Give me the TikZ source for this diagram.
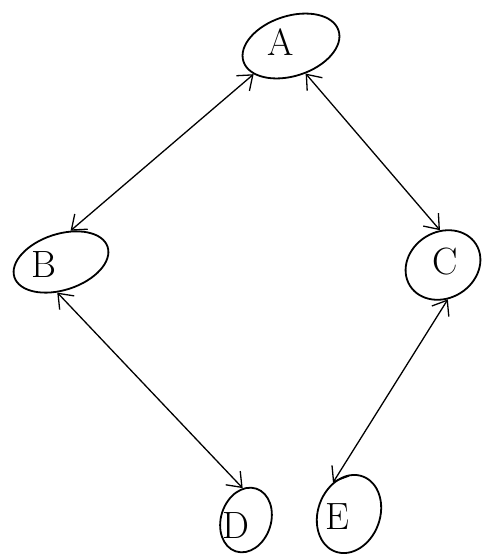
\documentclass[tikz,border=0pt]{standalone}
\usetikzlibrary{shapes.geometric,arrows.meta}
\begin{document}
\begin{tikzpicture}[x=1pt,y=-1pt,
  state/.style={draw, ellipse, line width=1.8pt, inner sep=0pt},
  letter/.style={font=\fontsize{38}{38}\selectfont, inner sep=0pt},
  link/.style={line width=1.3pt,
    {Straight Barb[length=13pt,width=20pt,line width=1.3pt]}-{Straight Barb[length=13pt,width=20pt,line width=1.3pt]}}]
\useasboundingbox (0,0) rectangle (482,555);
\fill[white] (0,0) rectangle (482,555);
\node[state, minimum width=100pt, minimum height=60pt, rotate=18] (a) at (291,46) {};
\node[state, minimum width=98pt, minimum height=56pt, rotate=18] (b) at (61,262) {};
\node[state, minimum width=78pt, minimum height=66pt, rotate=32] (c) at (443,265) {};
\node[state, minimum width=66pt, minimum height=50pt, rotate=72] (d) at (246,520) {};
\node[state, minimum width=80pt, minimum height=62pt, rotate=70] (e) at (349,514) {};
\node[letter] (ta) at (281,42) {A};
\node[letter] (tb) at (44,265) {B};
\node[letter] (tc) at (445,262) {C};
\node[letter] (td) at (236,526) {D};
\node[letter] (te) at (337,517) {E};
\draw[link] (a.199) -- (b.55);
\draw[link] (a.280) -- (c.63);
\draw[link] (b.245) -- (d.24);
\draw[link] (c.246) -- (e.47);
\end{tikzpicture}
\end{document}
